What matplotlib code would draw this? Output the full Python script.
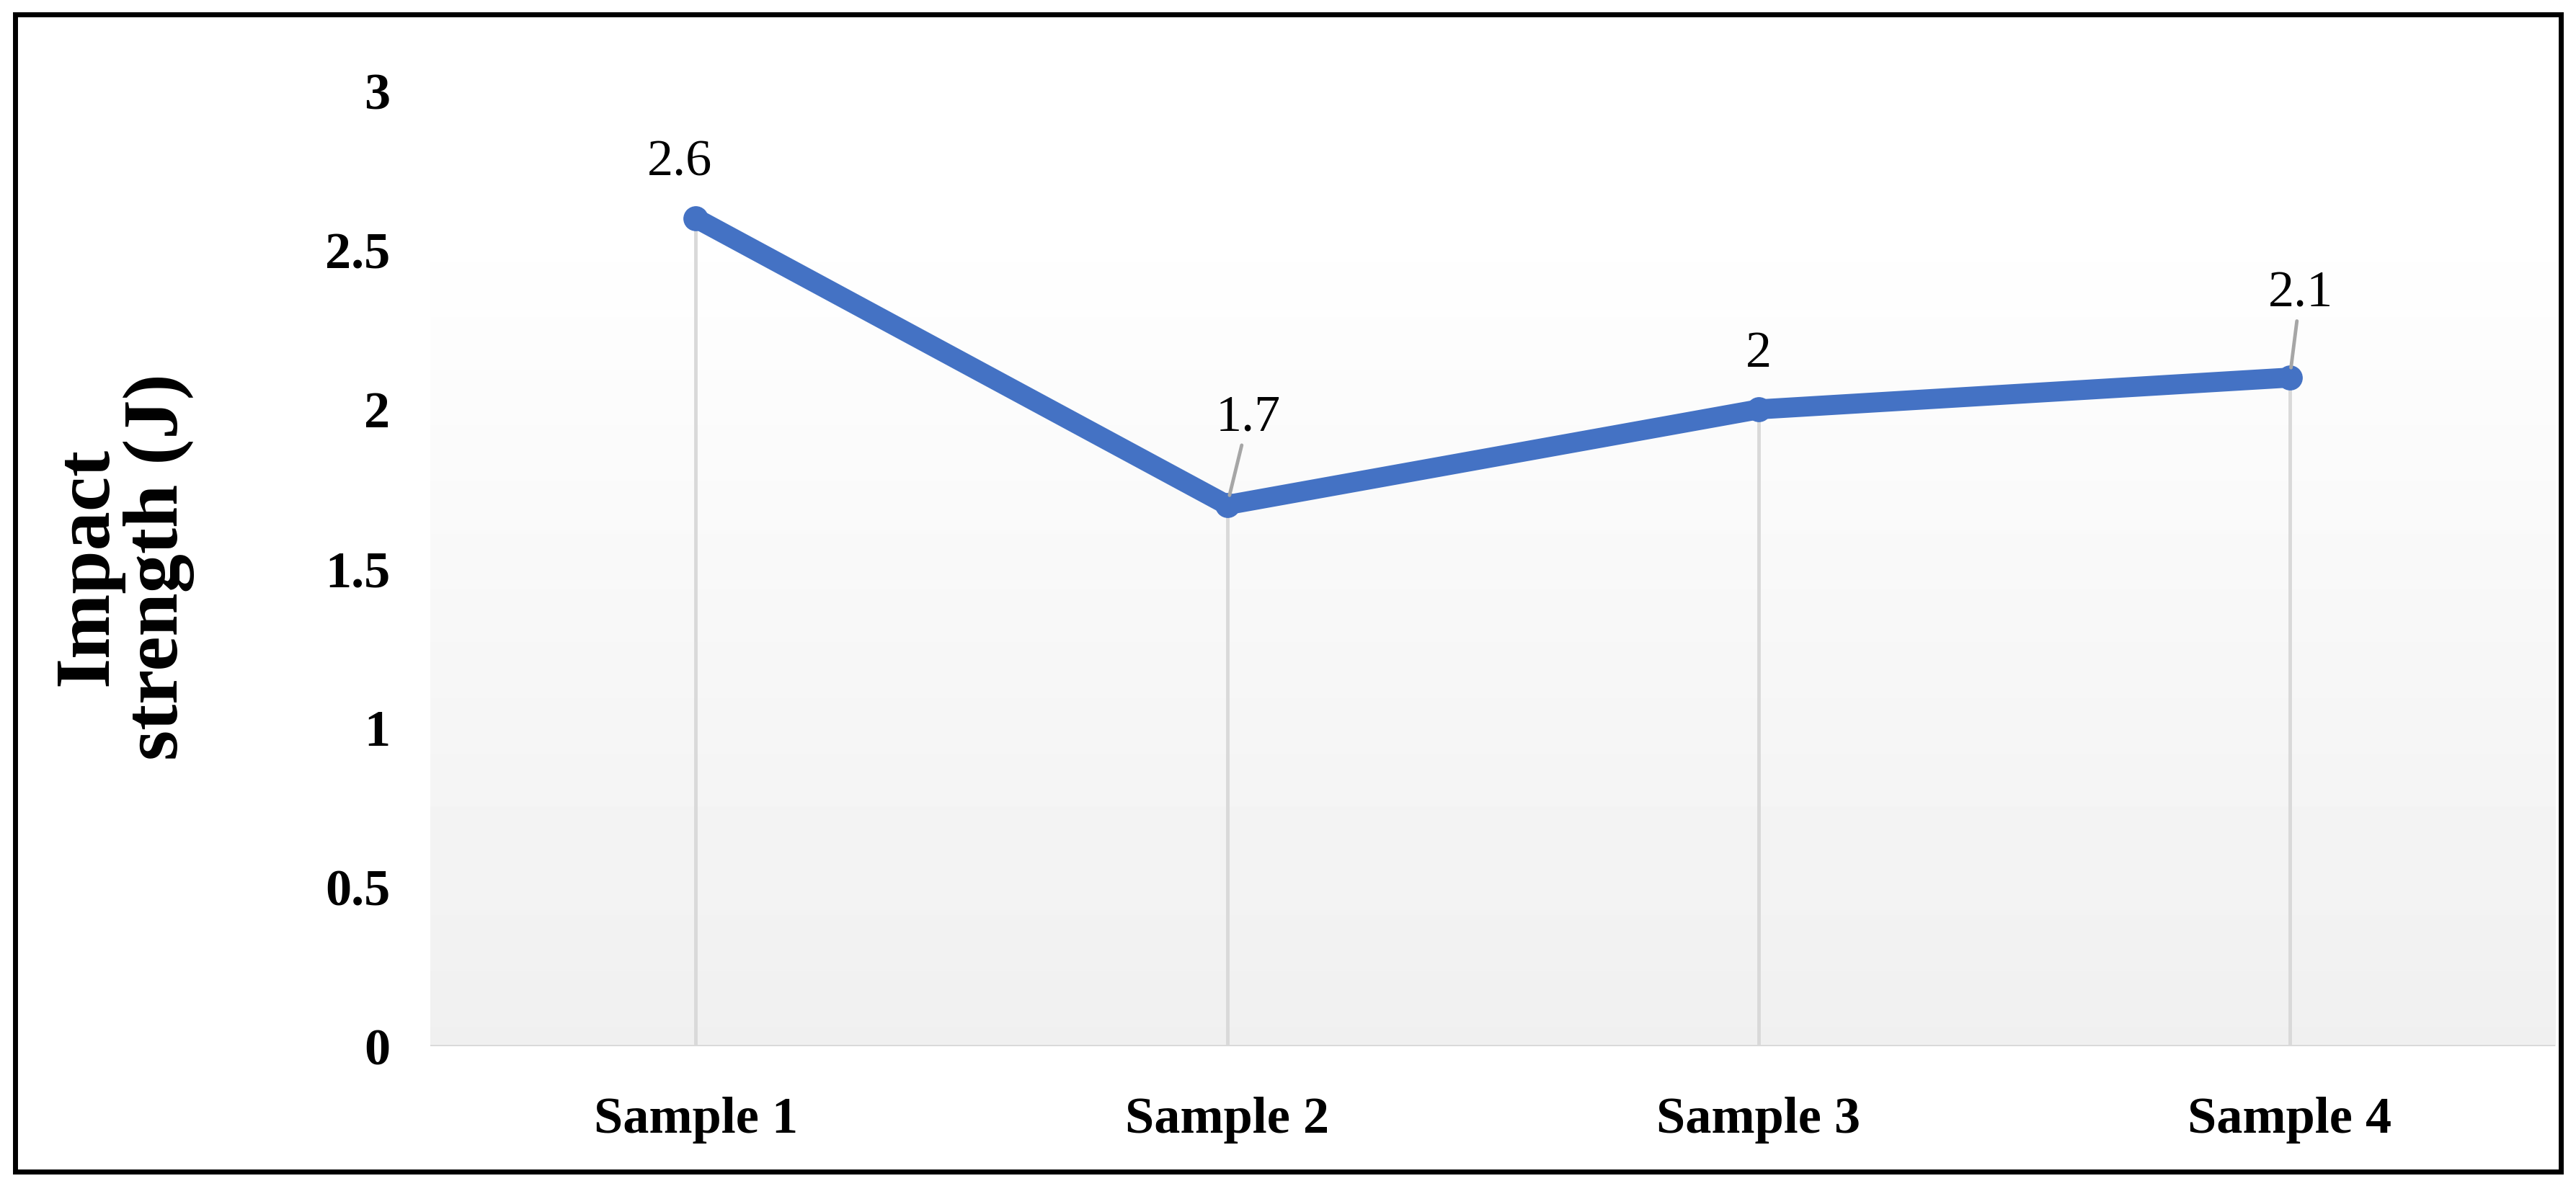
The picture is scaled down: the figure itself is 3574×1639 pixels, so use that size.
import numpy as np
import matplotlib
matplotlib.use('Agg')
import matplotlib.pyplot as plt
from matplotlib.patches import Rectangle

samples = ['Sample 1', 'Sample 2', 'Sample 3', 'Sample 4']
impact = [2.6, 1.7, 2.0, 2.1]
labels = ['2.6', '1.7', '2', '2.1']
yticks = [0, 0.5, 1, 1.5, 2, 2.5, 3]
ytick_labels = ['0', '0.5', '1', '1.5', '2', '2.5', '3']

plt.rcParams['font.family'] = ['Liberation Serif', 'DejaVu Serif']

fig = plt.figure(figsize=(35.74, 16.39), dpi=100)
ax = fig.add_axes([0.167, 0.114, 0.825, 0.809])
x = np.arange(len(samples))

ax.set_xlim(-0.5, 3.5)
ax.set_ylim(0, 3)

# gradient background (white at top, light grey at bottom)
grad = np.linspace(0.94, 1.0, 256).reshape(-1, 1)
ax.imshow(grad, cmap='gray', vmin=0, vmax=1, origin='lower', aspect='auto',
          extent=[-0.5, 3.5, 0, 2.64], zorder=0)

# drop lines
ax.vlines(x, 0, impact, color='#d9d9d9', lw=3.5, zorder=1)
ax.axhline(0, color='#d9d9d9', lw=3.5, zorder=1)

ax.plot(x, impact, color='#4472c4', lw=20, solid_capstyle='round',
        solid_joinstyle='round', marker='o', ms=24, zorder=3)

offsets = [(-0.03, 0.1), (0.04, 0.2), (0.0, 0.1), (0.02, 0.19)]
for xi, yi, lab, (dx, dy) in zip(x, impact, labels, offsets):
    if lab in ('1.7', '2.1'):
        ax.annotate(lab, (xi, yi), xytext=(xi + dx, yi + dy), ha='center', va='bottom',
                    fontsize=52,
                    arrowprops=dict(arrowstyle='-', color='#a6a6a6', lw=3.5,
                                    shrinkA=2, shrinkB=10))
    else:
        ax.text(xi + dx, yi + dy, lab, ha='center', va='bottom', fontsize=52)

ax.set_xticks(x)
ax.set_xticklabels(samples, fontsize=52, fontweight='bold')
ax.set_yticks(yticks)
ax.set_yticklabels(ytick_labels, fontsize=52, fontweight='bold')
ax.tick_params(length=0, pad=40)
ax.tick_params(axis='x', pad=50)
for s in ax.spines.values():
    s.set_visible(False)

fig.text(0.048, 0.52, 'Impact\nstrength (J)', rotation=90, ha='center', va='center',
         fontsize=78, fontweight='bold', linespacing=1.0)

fig.patches.append(Rectangle((0.006, 0.008), 0.988, 0.98, transform=fig.transFigure,
                             fill=False, edgecolor='black', lw=5))

fig.savefig('out.png', dpi=100)
